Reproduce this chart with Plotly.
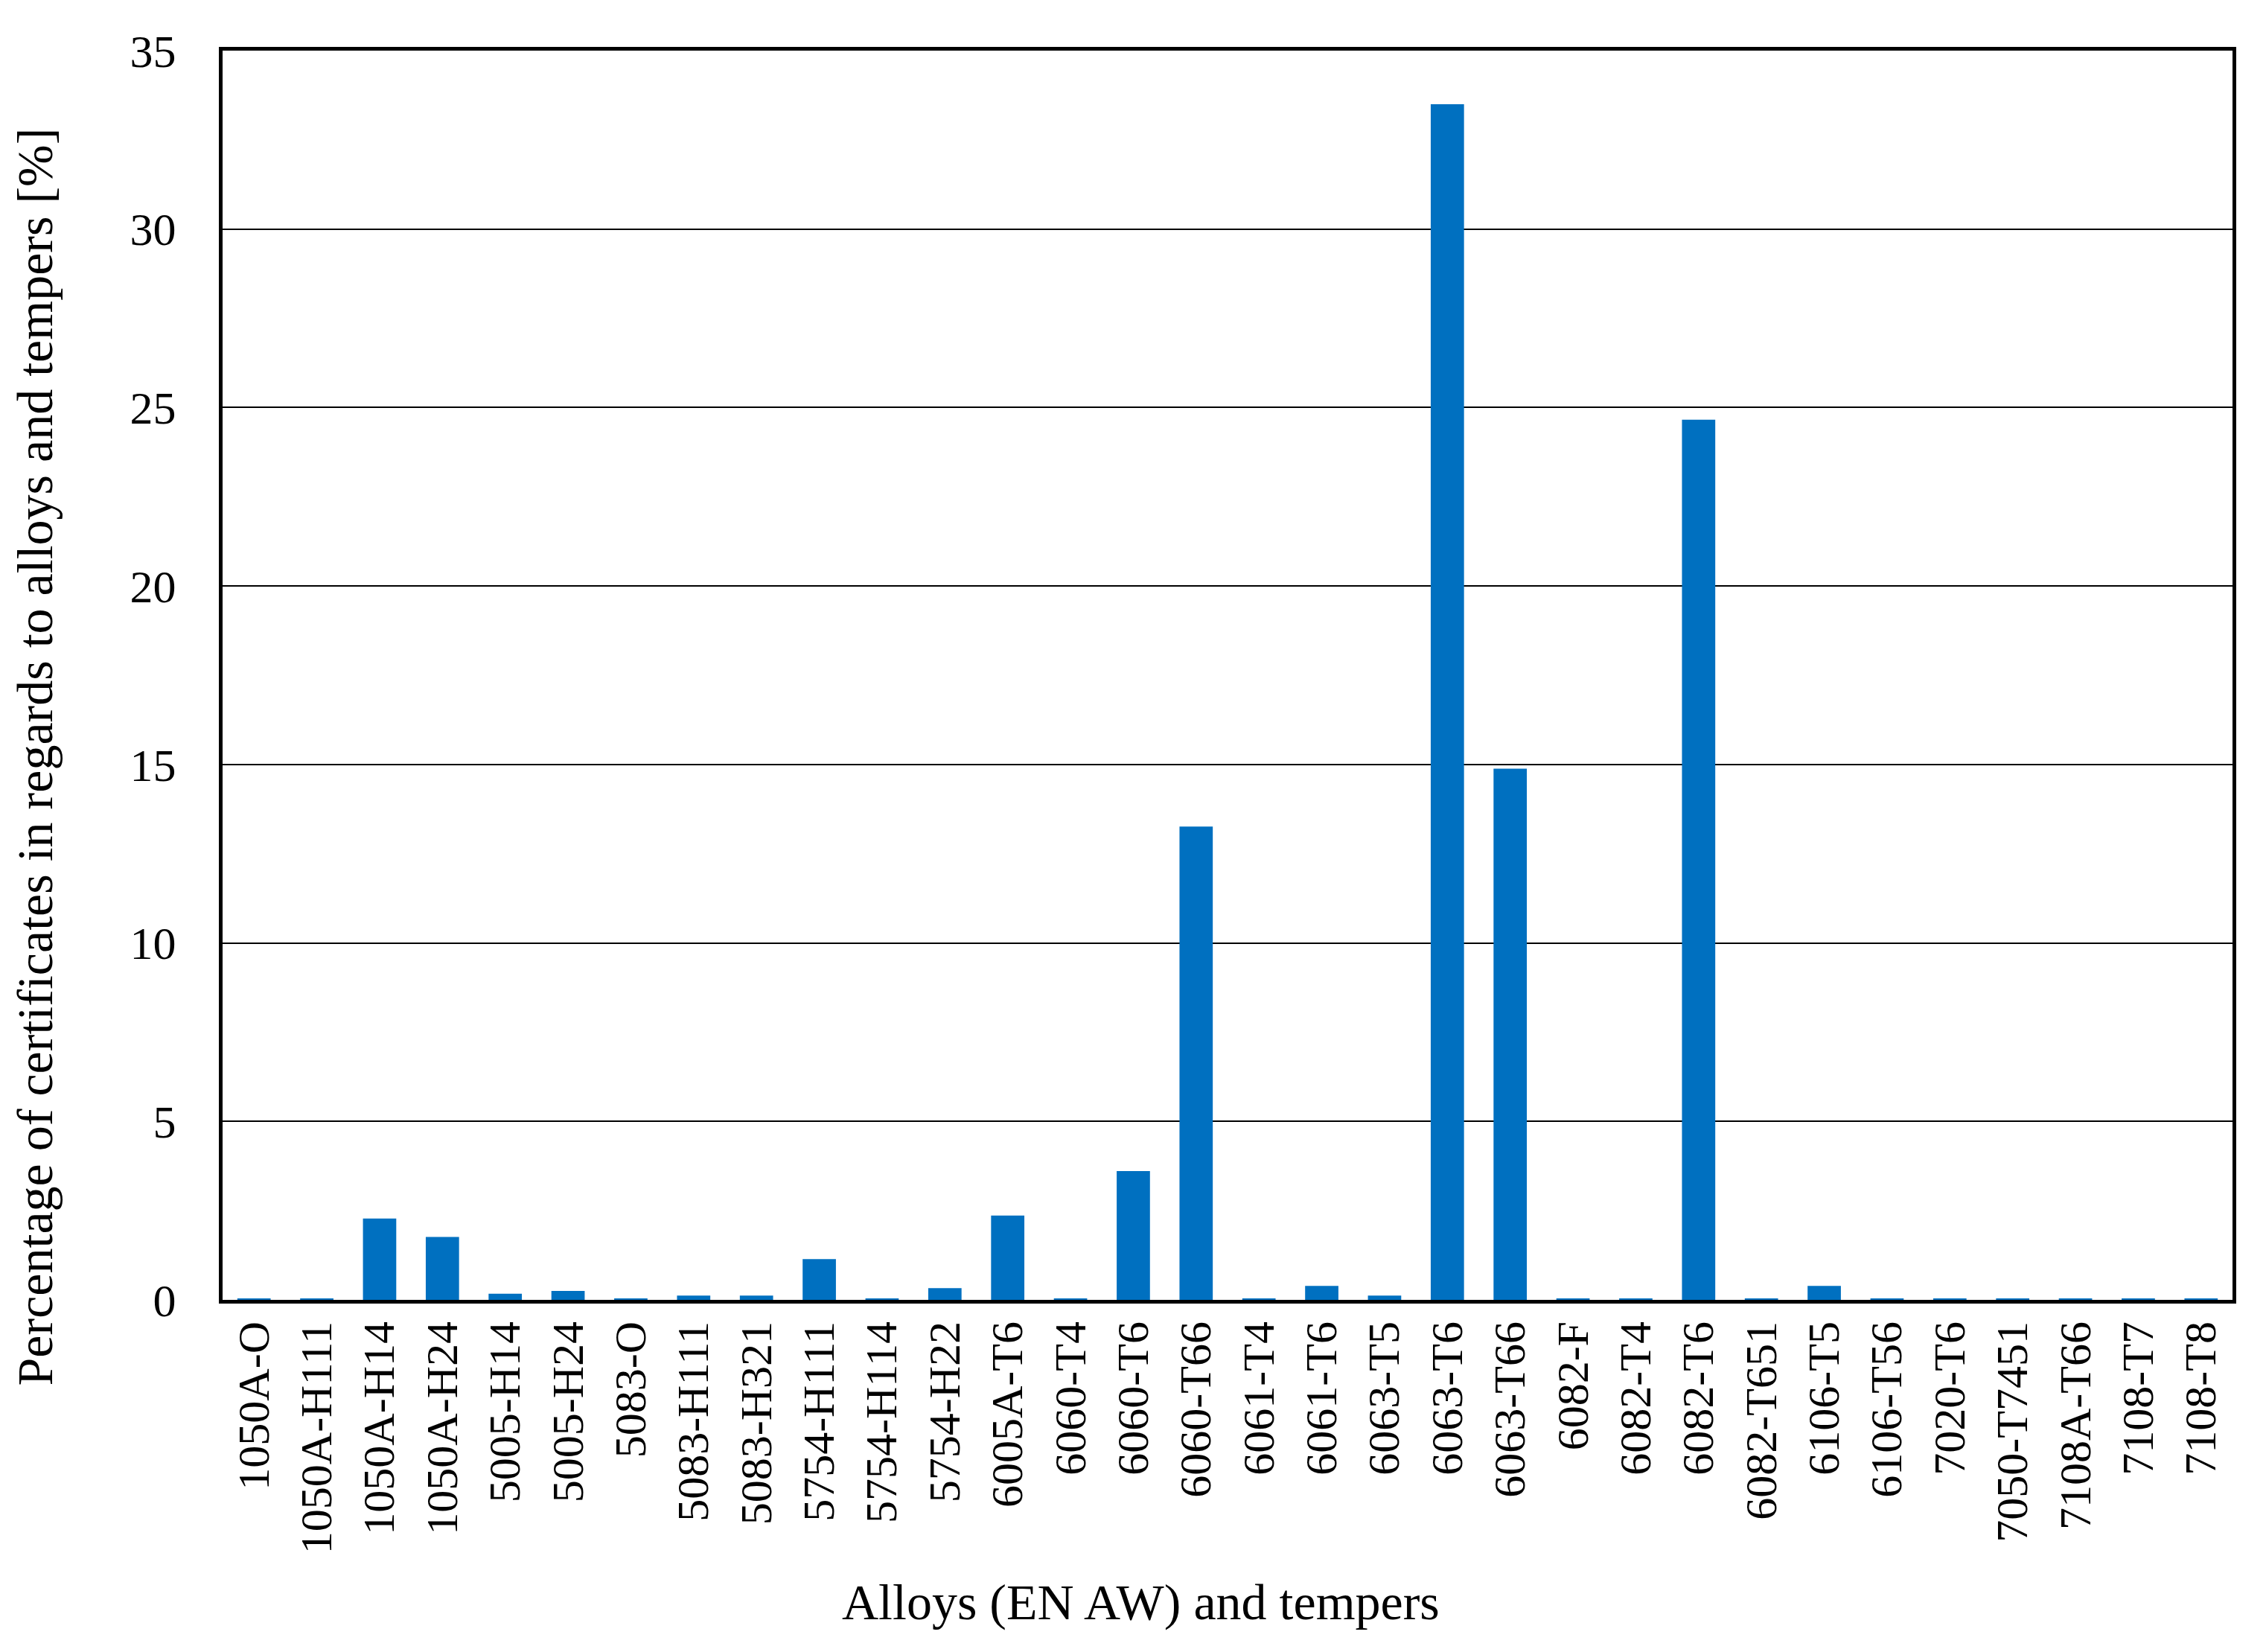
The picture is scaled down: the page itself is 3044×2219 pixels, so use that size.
import plotly.graph_objects as go

# alloys and tempers (EN AW)
alloys = ['1050A-O', '1050A-H111', '1050A-H14', '1050A-H24', '5005-H14', '5005-H24',
          '5083-O', '5083-H111', '5083-H321', '5754-H111', '5754-H114', '5754-H22',
          '6005A-T6', '6060-T4', '6060-T6', '6060-T66', '6061-T4', '6061-T6',
          '6063-T5', '6063-T6', '6063-T66', '6082-F', '6082-T4', '6082-T6',
          '6082-T651', '6106-T5', '6106-T56', '7020-T6', '7050-T7451', '7108A-T66',
          '7108-T7', '7108-T8']

# percentage of certificates [%]
percent = [0.04, 0.04, 2.28, 1.76, 0.17, 0.25,
           0.04, 0.12, 0.12, 1.14, 0.04, 0.33,
           2.36, 0.04, 3.61, 13.26, 0.04, 0.39,
           0.12, 33.5, 14.88, 0.04, 0.04, 24.66,
           0.04, 0.39, 0.04, 0.04, 0.04, 0.04,
           0.04, 0.04]

font_family = 'Liberation Serif'

fig = go.Figure(go.Bar(x=alloys, y=percent,
                       marker=dict(color='#0070C0', line=dict(width=0))))

fig.update_layout(
    width=3044, height=2219,
    margin=dict(l=291, r=53, t=60, b=481),
    plot_bgcolor='white', paper_bgcolor='white',
    bargap=0.47,
    showlegend=False,
    font=dict(family=font_family, size=60, color='black'),
)

# axis titles sit off-centre in the original, so place them as annotations
fig.add_annotation(text='Percentage of certificates in regards to alloys and tempers [%]',
                   xref='paper', yref='paper', x=-0.108, y=0.435,
                   textangle=-90, showarrow=False, font=dict(size=68))
fig.add_annotation(text='Alloys (EN AW) and tempers',
                   xref='paper', yref='paper', x=0.457, y=-0.266,
                   showarrow=False, font=dict(size=68))

fig.update_xaxes(
    tickangle=-90, ticks='', showgrid=False,
    showline=True, linewidth=5, linecolor='black', mirror=True,
    tickfont=dict(size=60), automargin=False, layer='below traces',
)
fig.update_yaxes(
    range=[0, 35], dtick=5, ticks='', tickformat='d',
    ticklabelstandoff=45,
    showgrid=True, gridcolor='black', gridwidth=2,
    zeroline=False,
    showline=True, linewidth=5, linecolor='black', mirror=True,
    tickfont=dict(size=62), automargin=False, layer='below traces',
)

fig.write_html('out.html')
